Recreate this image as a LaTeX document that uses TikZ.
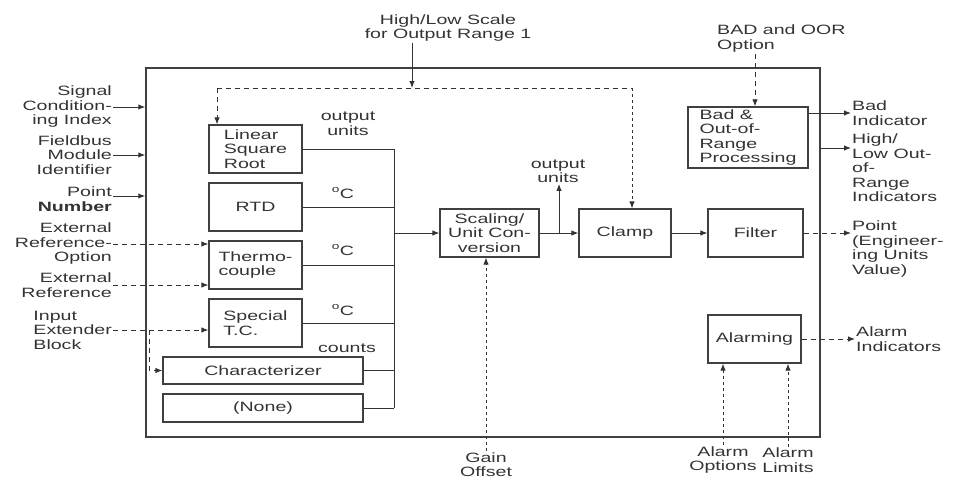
\documentclass[tikz,border=0pt]{standalone}
\usepackage{fontspec}
\setmainfont{Liberation Sans}[FakeStretch=1.45]
\usetikzlibrary{arrows.meta,calc}
\begin{document}
\begin{tikzpicture}[x=1pt,y=-1pt,
  lbl/.style={font=\fontsize{13.5}{14.5}\selectfont, text=black!80, inner sep=1pt},
  blk/.style={draw=black!75, line width=1.2pt, inner sep=0pt, font=\fontsize{13.5}{14.5}\selectfont, text=black!80, align=center},
  ln/.style={draw=black!80, line width=1pt},
  arr/.style={ln, -{Latex[length=7pt,width=5.5pt]}},
  dsh/.style={dash pattern=on 5pt off 4pt},
  dotl/.style={dash pattern=on 3pt off 3pt}]
\useasboundingbox (0,0) rectangle (956,480);
% frame
\node[draw=black!75, line width=1.5pt, minimum width=674pt, minimum height=369pt, inner sep=0pt] (frame) at (483,252.5) {};
% boxes
\node[blk, minimum width=93pt, minimum height=48pt, align=left] (lin) at (255.5,149) {Linear\\Square\\Root};
\node[blk, minimum width=93pt, minimum height=48pt] (rtd) at (255.5,207) {RTD};
\node[blk, minimum width=93pt, minimum height=48pt, align=left] (thermo) at (255.5,265) {Thermo-\\couple};
\node[blk, minimum width=93pt, minimum height=48pt, align=left] (spec) at (255.5,323) {Special\\T.C.};
\node[blk, minimum width=200pt, minimum height=27pt] (char) at (263,370.5) {Characterizer};
\node[blk, minimum width=200pt, minimum height=28pt] (none) at (263,408) {(None)};
\node[blk, minimum width=99pt, minimum height=48pt] (scale) at (489.5,233) {Scaling/\\Unit Con-\\version};
\node[blk, minimum width=92pt, minimum height=48pt] (clamp) at (625,233) {Clamp};
\node[blk, minimum width=95pt, minimum height=48pt] (filter) at (755.5,233) {Filter};
\node[blk, minimum width=120pt, minimum height=61pt, align=left] (bad) at (748,137.5) {Bad \&\\Out-of-\\Range\\Processing};
\node[blk, minimum width=93pt, minimum height=48pt] (alarm) at (754.5,339) {Alarming};
% left labels
\node[lbl, align=right, anchor=east] (sig) at (113,107) {Signal\\Condition-\\ing Index};
\node[lbl, align=right, anchor=east] (fbm) at (113,155) {Fieldbus\\Module\\Identifier};
\node[lbl, align=right, anchor=east] (pnum) at (113,199) {Point\\\textbf{Number}};
\node[lbl, align=right, anchor=east] (ero) at (113,244) {External\\Reference-\\Option};
\node[lbl, align=right, anchor=east] (eref) at (113,285) {External\\Reference};
\node[lbl, align=left, anchor=east] (ieb) at (113,330) {Input\\Extender\\Block};
% top / bottom labels
\node[lbl, align=center] (hls) at (448,28) {High/Low Scale\\for Output Range 1};
\node[lbl, align=left, anchor=north west] (bado) at (716,24) {BAD and OOR\\Option};
\node[lbl, align=center] (gain) at (486,464.5) {Gain\\Offset};
\node[lbl, align=center] (aop) at (723,460) {Alarm\\Options};
\node[lbl, align=center] (alim) at (788,460) {Alarm\\Limits};
% right labels
\node[lbl, align=left, anchor=west] (badi) at (851,113) {Bad\\Indicator};
\node[lbl, align=left, anchor=north west] (hlo) at (851,133) {High/\\Low Out-\\of-\\Range\\Indicators};
\node[lbl, align=left, anchor=north west] (ptv) at (851,220) {Point\\(Engineer-\\ing Units\\Value)};
\node[lbl, align=left, anchor=west] (ali) at (855,339) {Alarm\\Indicators};
% inner labels
\node[lbl, align=center] (ou1) at (348,123.5) {output\\units};
\node[lbl] (c1) at (343,193) {\textsuperscript{o}C};
\node[lbl] (c2) at (343,250) {\textsuperscript{o}C};
\node[lbl] (c3) at (343,310) {\textsuperscript{o}C};
\node[lbl] (cnt) at (347,348) {counts};
\node[lbl, align=center] (ou2) at (558,171) {output\\units};
% coordinates
\coordinate (bx) at (394,0);
\coordinate (br) at (149,330);
\coordinate (hlt) at (412,88);
\coordinate (dl) at (217,88);
\coordinate (dr) at (632,88);
\coordinate (bo) at (755,54);
\coordinate (hlA) at (820,148);
\coordinate (brn) at ($(scale.east)!0.5!(clamp.west)$);
% left inputs
\draw[arr] (sig.east) -- (sig.east -| frame.west);
\draw[arr] (fbm.east) -- (fbm.east -| frame.west);
\draw[arr] ([yshift=3pt]pnum.east) -- ([yshift=3pt]pnum.east -| frame.west);
\draw[arr,dsh] (ero.east) -- (ero.east -| thermo.west);
\draw[arr,dsh] (eref.east) -- (eref.east -| thermo.west);
\draw[arr,dsh] (ieb.east) -- (ieb.east -| spec.west);
\draw[arr,dsh] (br) |- (char.west);
% bus
\draw[ln] (lin.east) -- (lin.east -| bx);
\draw[ln] (rtd.east) -- (rtd.east -| bx);
\draw[ln] (thermo.east) -- (thermo.east -| bx);
\draw[ln] (spec.east) -- (spec.east -| bx);
\draw[ln] (char.east) -- (char.east -| bx);
\draw[ln] (none.east) -- (none.east -| bx);
\draw[ln] (bx |- lin.east) -- (bx |- none.east);
\draw[arr] (bx |- scale.west) -- (scale.west);
% main chain
\draw[arr] (scale.east) -- (clamp.west);
\draw[arr] (brn) -- (brn |- ou2.south);
\draw[arr] (clamp.east) -- (filter.west);
\draw[arr,dsh] (filter.east) -- (filter.east -| ptv.west);
% top dashed
\draw[arr] (hlt |- hls.south) -- (hlt);
\draw[ln,dsh] (dl) -- (dr);
\draw[arr,dsh] (dl) -- (dl |- lin.north);
\draw[arr,dotl] (dr) -- (dr |- clamp.north);
% bad
\draw[arr,dsh] (bo) -- (bo |- bad.north);
\draw[arr] (bad.east |- badi.west) -- (badi.west);
\draw[arr] (hlA) -- (hlA -| hlo.west);
% bottom
\draw[arr,dotl] (gain.north) -- (gain.north |- scale.south);
\draw[arr,dotl] (aop.north) -- (aop.north |- alarm.south);
\draw[arr,dotl] (alim.north) -- (alim.north |- alarm.south);
\draw[arr,dsh] (alarm.east) -- (alarm.east -| ali.west);
\end{tikzpicture}
\end{document}
